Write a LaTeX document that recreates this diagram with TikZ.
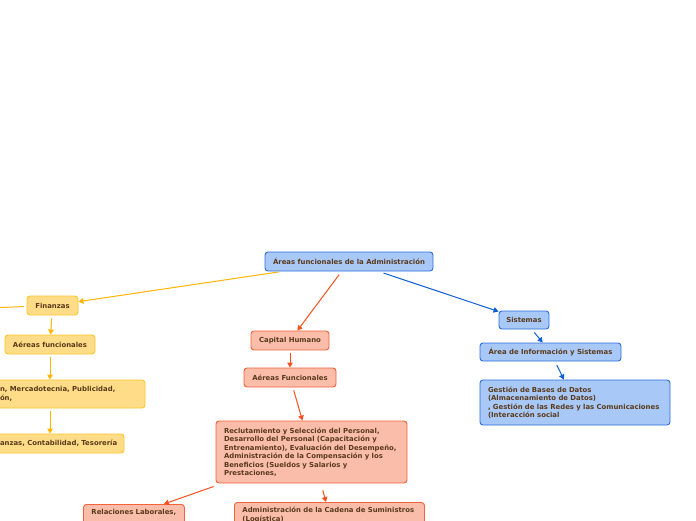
\documentclass[tikz,border=0pt]{standalone}
\usepackage{fontspec}
\setmainfont{DejaVu Sans}
\usetikzlibrary{arrows.meta,calc}
\definecolor{txt}{HTML}{5A3A1A}
\definecolor{bfill}{HTML}{A8C8F8}
\definecolor{bline}{HTML}{2A6FDB}
\definecolor{barr}{HTML}{0D5FD6}
\definecolor{ofill}{HTML}{FFDD88}
\definecolor{oline}{HTML}{FFC42A}
\definecolor{oarr}{HTML}{FFB400}
\definecolor{sfill}{HTML}{F9BDA9}
\definecolor{sline}{HTML}{F4613A}
\definecolor{sarr}{HTML}{F4511E}
\begin{document}
\begin{tikzpicture}[x=1pt,y=-1pt,
  box/.style={draw, rounded corners=3pt, line width=0.9pt, inner sep=0pt,
    font=\bfseries\fontsize{6.9}{8.5}\selectfont, text=txt},
  bluebox/.style={box, fill=bfill, draw=bline},
  orbox/.style={box, fill=ofill, draw=oline},
  sabox/.style={box, fill=sfill, draw=sline},
  multi/.style={align=left, inner xsep=8pt},
  arr/.style={-{Triangle[length=5pt,width=5.5pt]}, line width=1pt, shorten <=3pt},
  barrow/.style={arr, draw=barr},
  oarrow/.style={arr, draw=oarr},
  sarrow/.style={arr, draw=sarr}
]
\useasboundingbox (0,0) rectangle (696,520);
\clip (0,0) rectangle (696,520);

% root
\node[bluebox, minimum width=168pt, minimum height=19pt] (root) at (349,261.5) {Áreas funcionales de la Administración};

% blue branch
\node[bluebox, minimum width=50pt, minimum height=18pt] (sis) at (524,320) {Sistemas};
\node[bluebox, minimum width=141pt, minimum height=18pt] (ais) at (550.5,352) {Área de Información y Sistemas};
\node[bluebox, multi, text width=174pt, minimum height=45pt] (ges) at (575,402.5) {Gestión de Bases de Datos\\(Almacenamiento de Datos)\\, Gestión de las Redes y las Comunicaciones\\(Interacción social};

% orange branch
\node[orbox, minimum width=51pt, minimum height=19pt] (fin) at (52.5,305.5) {Finanzas};
\node[orbox, minimum width=90pt, minimum height=19pt] (oaf) at (50,344.5) {Aéreas funcionales};
\node[orbox, multi, text width=137pt, minimum height=28pt] (mer) at (68.5,394) {n, Mercadotecnia, Publicidad,\\ón,};
\node[orbox, align=left, inner xsep=4pt, text width=120pt, minimum height=19pt] (con) at (60,443.5) {\mbox{anzas, Contabilidad, Tesorería}};
\coordinate (offl) at (-40,309);

% salmon branch
\node[sabox, minimum width=78pt, minimum height=19pt] (ch) at (290,340.5) {Capital Humano};
\node[sabox, minimum width=92pt, minimum height=19pt] (saf) at (290,377.5) {Aéreas Funcionales};
\node[sabox, multi, text width=175pt, minimum height=62pt] (big) at (311.5,452) {Reclutamiento y Selección del Personal,\\Desarrollo del Personal (Capacitación y\\Entrenamiento), Evaluación del Desempeño,\\Administración de la Compensación y los\\Beneficios (Sueldos y Salarios y\\Prestaciones,};
\node[sabox, multi, text width=85pt, inner ysep=5pt, anchor=north west, minimum height=26pt] (rel) at (83,504) {Relaciones Laborales,\\\strut};
\node[sabox, multi, text width=174pt, inner ysep=5pt, anchor=north west] (cad) at (234,502) {Administración de la Cadena de Suministros\\(Logística)\\\strut};

% connectors
\draw[barrow, shorten <=5pt] (root) -- (sis);
\draw[barrow, shorten <=4pt] (sis) -- (ais);
\draw[barrow, shorten <=4pt] (ais) -- (ges);

\draw[oarrow] (root) -- (fin);
\draw[draw=oarr, line width=1pt, shorten <=3pt] (fin) -- (offl);
\draw[oarrow] (fin) -- (oaf);
\draw[oarrow] (oaf.south) -- (oaf.south |- mer.north);
\draw[oarrow] (oaf.south |- mer.south) -- (oaf.south |- con.north);

\draw[sarrow, shorten <=4pt] (root) -- (ch);
\draw[sarrow] (ch) -- (saf);
\draw[sarrow] (saf) -- (big);
\draw[sarrow] ($(big.south west)+(1,2)$) -- ($(rel.north east)+(-21,0)$);
\draw[sarrow] ($(big.south)+(10.5,4)$) -- ($(cad.north west)+(92,0)$);
\end{tikzpicture}
\end{document}
